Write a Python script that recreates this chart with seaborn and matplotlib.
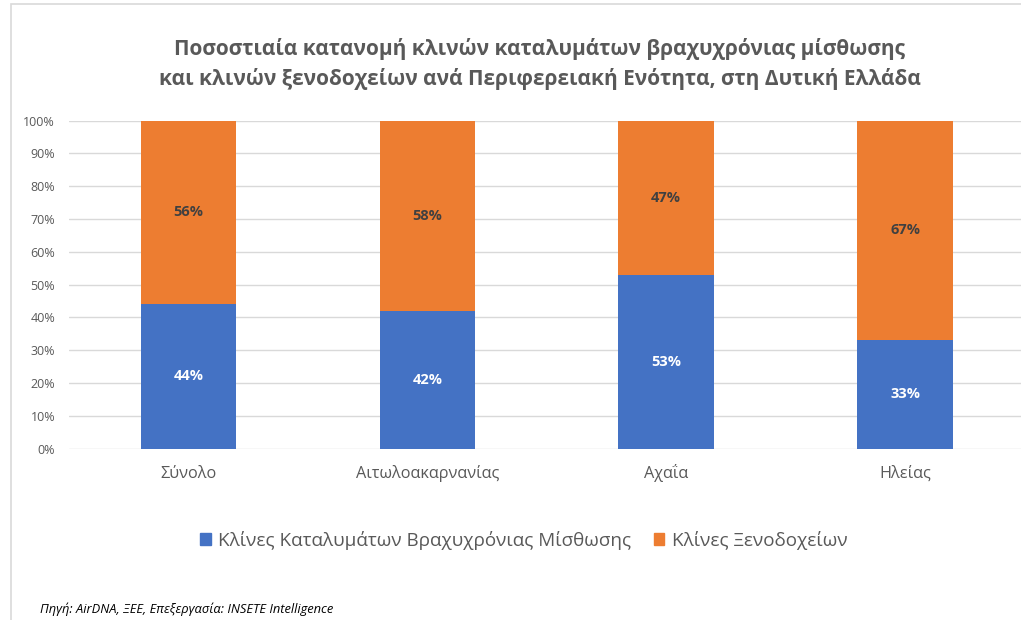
import matplotlib
matplotlib.use("Agg")
import matplotlib.pyplot as plt
import seaborn as sns
import pandas as pd
import numpy as np
from matplotlib.patches import Rectangle, Patch

categories = ["Σύνολο", "Αιτωλοακαρνανίας", "Αχαΐα", "Ηλείας"]
short_term = [44, 42, 53, 33]
hotels = [56, 58, 47, 67]
series_names = ["Κλίνες Καταλυμάτων Βραχυχρόνιας Μίσθωσης", "Κλίνες Ξενοδοχείων"]
title = "Ποσοστιαία κατανομή κλινών καταλυμάτων βραχυχρόνιας μίσθωσης\nκαι κλινών ξενοδοχείων ανά Περιφερειακή Ενότητα, στη Δυτική Ελλάδα"
source = "Πηγή: AirDNA, ΞΕΕ, Επεξεργασία: INSETE Intelligence"

BLUE = "#4472C4"
ORANGE = "#ED7D31"
GRAY = "#595959"

sns.set_theme(style="white")
plt.rcParams["font.family"] = ["Open Sans", "DejaVu Sans"]

W, H = 1021, 620
fig = plt.figure(figsize=(W / 100, H / 100), dpi=100)

# chart border (light gray), cropped at right/bottom
fig.patches.append(Rectangle((10.5 / W, -0.1), 1.2, (H - 4) / H + 0.1, transform=fig.transFigure,
                             fill=False, edgecolor="#D9D9D9", linewidth=1.2))

left, right = 69, 1021
bottom_px, top_px = 448.5, 120.5
ax = fig.add_axes([left / W, (H - bottom_px) / H, (right - left) / W, (bottom_px - top_px) / H])

df = pd.DataFrame({"cat": categories,
                   "blue": short_term,
                   "total": np.array(short_term) + np.array(hotels)})

sns.barplot(data=df, x="cat", y="total", color=ORANGE, width=0.4, saturation=1, ax=ax,
            zorder=3, linewidth=0)
sns.barplot(data=df, x="cat", y="blue", color=BLUE, width=0.4, saturation=1, ax=ax,
            zorder=3, linewidth=0)

ax.set_ylim(0, 100)
ax.set_xlim(-0.5, (1021 - 188) / 239)
ax.set_yticks(np.arange(0, 101, 10))
ax.set_yticklabels([f"{v}%" for v in range(0, 101, 10)], color=GRAY, fontsize=9)
ax.set_xticks(range(len(categories)))
ax.set_xticklabels(categories, color=GRAY, fontsize=11.7)
for lab in ax.get_xticklabels():
    lab.set_verticalalignment("baseline")
ax.tick_params(axis="x", pad=21, length=0)
ax.tick_params(axis="y", pad=10, length=0)
ax.set_xlabel("")
ax.set_ylabel("")
ax.grid(axis="y", color="#D9D9D9", linewidth=1, zorder=0)
for s in ax.spines.values():
    s.set_visible(False)

for i, (b, o) in enumerate(zip(short_term, hotels)):
    ax.text(i, b / 2, f"{b}%", ha="center", va="center", color="white",
            fontsize=10.5, fontweight="bold", zorder=5)
    ax.text(i, b + o / 2, f"{o}%", ha="center", va="center", color="#404040",
            fontsize=10.5, fontweight="bold", zorder=5)

fig.text(540 / W, 1 - 64 / H, title, ha="center", va="center", fontsize=15,
         fontweight="bold", color=GRAY, linespacing=1.45)

handles = [Patch(color=BLUE), Patch(color=ORANGE)]
fig.legend(handles, series_names, loc="center", bbox_to_anchor=(524 / W, 1 - 540 / H),
           ncol=2, frameon=False, fontsize=13.6, handlelength=0.55, handleheight=0.6,
           handletextpad=0.4, columnspacing=1.2, labelcolor=GRAY)

fig.text(40 / W, 1 - 609 / H, source, ha="left", va="center", fontsize=9.3,
         style="italic", color="black")

fig.savefig("out.png", dpi=100)
